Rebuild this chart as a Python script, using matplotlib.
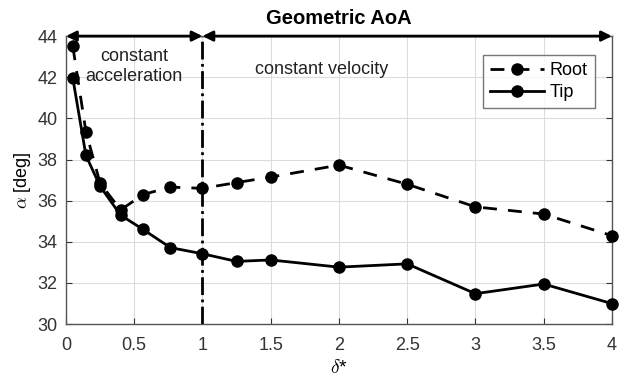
import matplotlib
matplotlib.use("Agg")
import matplotlib.pyplot as plt

plt.rcParams['font.family'] = ['Liberation Sans', 'DejaVu Sans']
plt.rcParams['mathtext.fontset'] = 'cm'

# Non-dimensional stroke position and angle of attack at root and tip
delta = [0.05, 0.146, 0.25, 0.4, 0.565, 0.765, 1.0, 1.25, 1.5, 2.0, 2.5, 3.0, 3.5, 4.0]
alpha_root = [43.5, 39.35, 36.85, 35.55, 36.3, 36.66, 36.6, 36.88, 37.15, 37.73, 36.8, 35.7, 35.35, 34.3]
alpha_tip = [41.95, 38.2, 36.7, 35.3, 34.6, 33.72, 33.42, 33.05, 33.12, 32.77, 32.93, 31.48, 31.95, 31.0]

xticks = [0, 0.5, 1, 1.5, 2, 2.5, 3, 3.5, 4]
xticklabels = ['0', '0.5', '1', '1.5', '2', '2.5', '3', '3.5', '4']
yticks = [30, 32, 34, 36, 38, 40, 42, 44]

fig = plt.figure(figsize=(6.25, 3.8), dpi=100)
ax = fig.add_axes([0.1056, 0.147, 0.8734, 0.758])

ax.plot(delta, alpha_root, '--o', color='black', lw=2, ms=8,
        dashes=(5, 4), label='Root', clip_on=False, zorder=3)
ax.plot(delta, alpha_tip, '-o', color='black', lw=2, ms=8,
        label='Tip', clip_on=False, zorder=3)

ax.set_xlim(0, 4)
ax.set_ylim(30, 44)
ax.set_xticks(xticks)
ax.set_xticklabels(xticklabels)
ax.set_yticks(yticks)
ax.grid(True, color='#dcdcdc', lw=0.8)
ax.set_axisbelow(True)
ax.tick_params(direction='in', length=4, labelsize=13, colors='#333333',
               right=True, top=False)
ax.tick_params(axis='y', pad=6)
ax.tick_params(axis='x', pad=9)
for s in ax.spines.values():
    s.set_color('#555555')
    s.set_linewidth(1)

ax.set_xlabel(r'$\delta$*', fontsize=14, labelpad=4)
ax.set_ylabel(r'$\alpha$ [deg]', fontsize=13, labelpad=3)

# Phase boundary and phase arrows along the top edge
ax.axvline(1.0, color='black', lw=2, ls='-.', zorder=2)
arrow_kw = dict(arrowstyle='<|-|>', color='black', lw=2, mutation_scale=15,
                shrinkA=0, shrinkB=0)
ax.annotate('', xy=(0, 44), xytext=(1, 44), arrowprops=arrow_kw,
            annotation_clip=False)
ax.annotate('', xy=(1, 44), xytext=(4, 44), arrowprops=arrow_kw,
            annotation_clip=False)

ax.text(0.5, 42.52, 'constant\nacceleration', ha='center', va='center',
        fontsize=13, linespacing=1.3, color='#222222')
ax.text(1.87, 42.4, 'constant velocity', ha='center', va='center',
        fontsize=13, color='#222222')
ax.set_title('Geometric AoA', fontsize=14.5, fontweight='bold', pad=9)

leg = ax.legend(loc='upper right', bbox_to_anchor=(0.969, 0.934), fontsize=13,
                frameon=True, fancybox=False, edgecolor='#555555',
                handlelength=3.0, borderpad=0.4, labelspacing=0.25,
                handletextpad=0.3, borderaxespad=0)
leg.get_frame().set_linewidth(1)

fig.savefig('out.png', dpi=100)
